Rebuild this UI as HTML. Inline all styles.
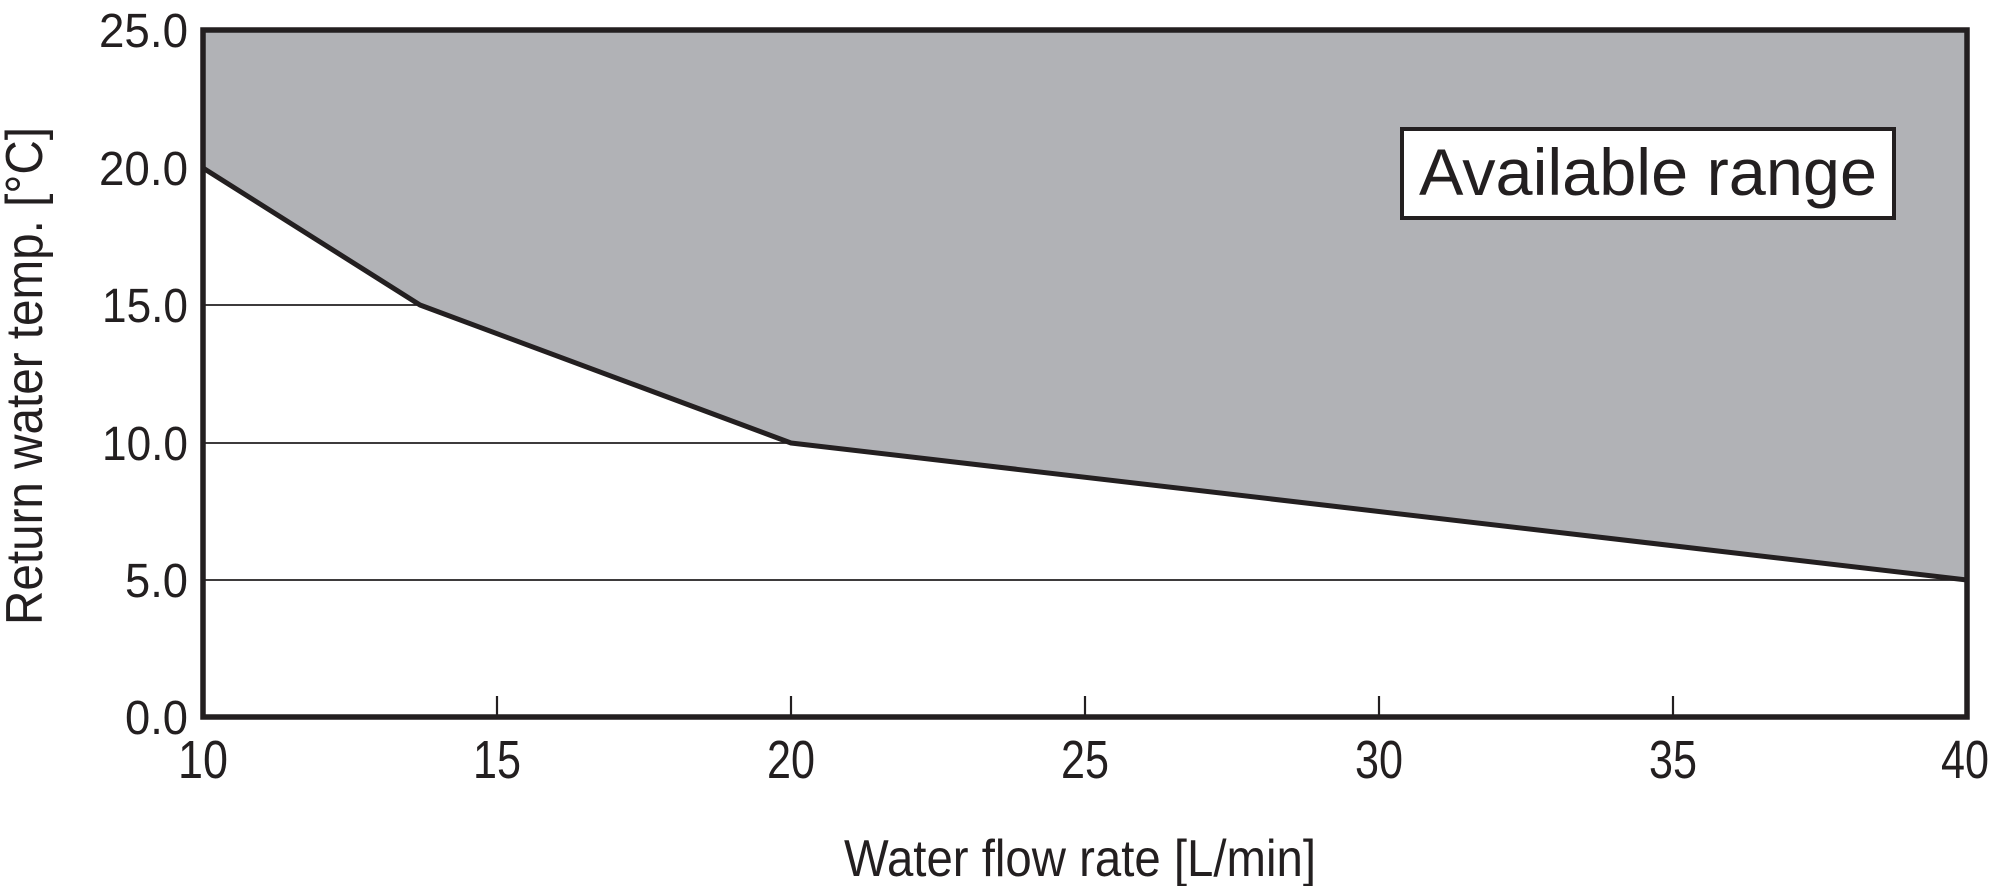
<!DOCTYPE html>
<html><head><meta charset="utf-8"><style>
html,body{margin:0;padding:0;background:#fff;}
svg{display:block;}
text{font-family:"Liberation Sans",Arial,sans-serif;fill:#231f20;}
</style></head><body>
<svg width="1991" height="886" viewBox="0 0 1991 886" xmlns="http://www.w3.org/2000/svg">
<g stroke="#231f20" stroke-width="1.8">
<line x1="203" y1="305" x2="1967" y2="305"/>
<line x1="203" y1="443" x2="1967" y2="443"/>
<line x1="203" y1="580" x2="1967" y2="580"/>
</g>
<polygon points="203,30 1967,30 1967,580 791,443 420,305 203,168" fill="#b1b2b6"/>
<polyline points="203,168 420,305 791,443 1967,580" fill="none" stroke="#231f20" stroke-width="5" stroke-linejoin="round"/>
<g stroke="#231f20" stroke-width="2.2">
<line x1="497" y1="696" x2="497" y2="717"/>
<line x1="791" y1="696" x2="791" y2="717"/>
<line x1="1085" y1="696" x2="1085" y2="717"/>
<line x1="1379" y1="696" x2="1379" y2="717"/>
<line x1="1673" y1="696" x2="1673" y2="717"/>
</g>
<rect x="203" y="30" width="1764" height="687" fill="none" stroke="#231f20" stroke-width="5.5"/>
<rect x="1402" y="129" width="492" height="89" fill="#fff" stroke="#231f20" stroke-width="4"/>
<text x="1648" y="195" font-size="66" text-anchor="middle" textLength="458" lengthAdjust="spacingAndGlyphs">Available range</text>
<g font-size="48" text-anchor="end">
<text x="188" y="47" textLength="89" lengthAdjust="spacingAndGlyphs">25.0</text>
<text x="188" y="185" textLength="89" lengthAdjust="spacingAndGlyphs">20.0</text>
<text x="188" y="322" textLength="86" lengthAdjust="spacingAndGlyphs">15.0</text>
<text x="188" y="460" textLength="86" lengthAdjust="spacingAndGlyphs">10.0</text>
<text x="188" y="597" textLength="63" lengthAdjust="spacingAndGlyphs">5.0</text>
<text x="188" y="734" textLength="63" lengthAdjust="spacingAndGlyphs">0.0</text>
</g>
<g font-size="54" text-anchor="middle">
<text x="203" y="778" textLength="50" lengthAdjust="spacingAndGlyphs">10</text>
<text x="497" y="778" textLength="48" lengthAdjust="spacingAndGlyphs">15</text>
<text x="791" y="778" textLength="48" lengthAdjust="spacingAndGlyphs">20</text>
<text x="1085" y="778" textLength="48" lengthAdjust="spacingAndGlyphs">25</text>
<text x="1379" y="778" textLength="48" lengthAdjust="spacingAndGlyphs">30</text>
<text x="1673" y="778" textLength="48" lengthAdjust="spacingAndGlyphs">35</text>
<text x="1965" y="778" textLength="48" lengthAdjust="spacingAndGlyphs">40</text>
</g>
<text x="1080" y="876" font-size="52" text-anchor="middle" textLength="472" lengthAdjust="spacingAndGlyphs">Water flow rate [L/min]</text>
<text transform="translate(42,376) rotate(-90)" font-size="52" text-anchor="middle" textLength="498" lengthAdjust="spacingAndGlyphs">Return water temp. [°C]</text>
</svg>
</body></html>
